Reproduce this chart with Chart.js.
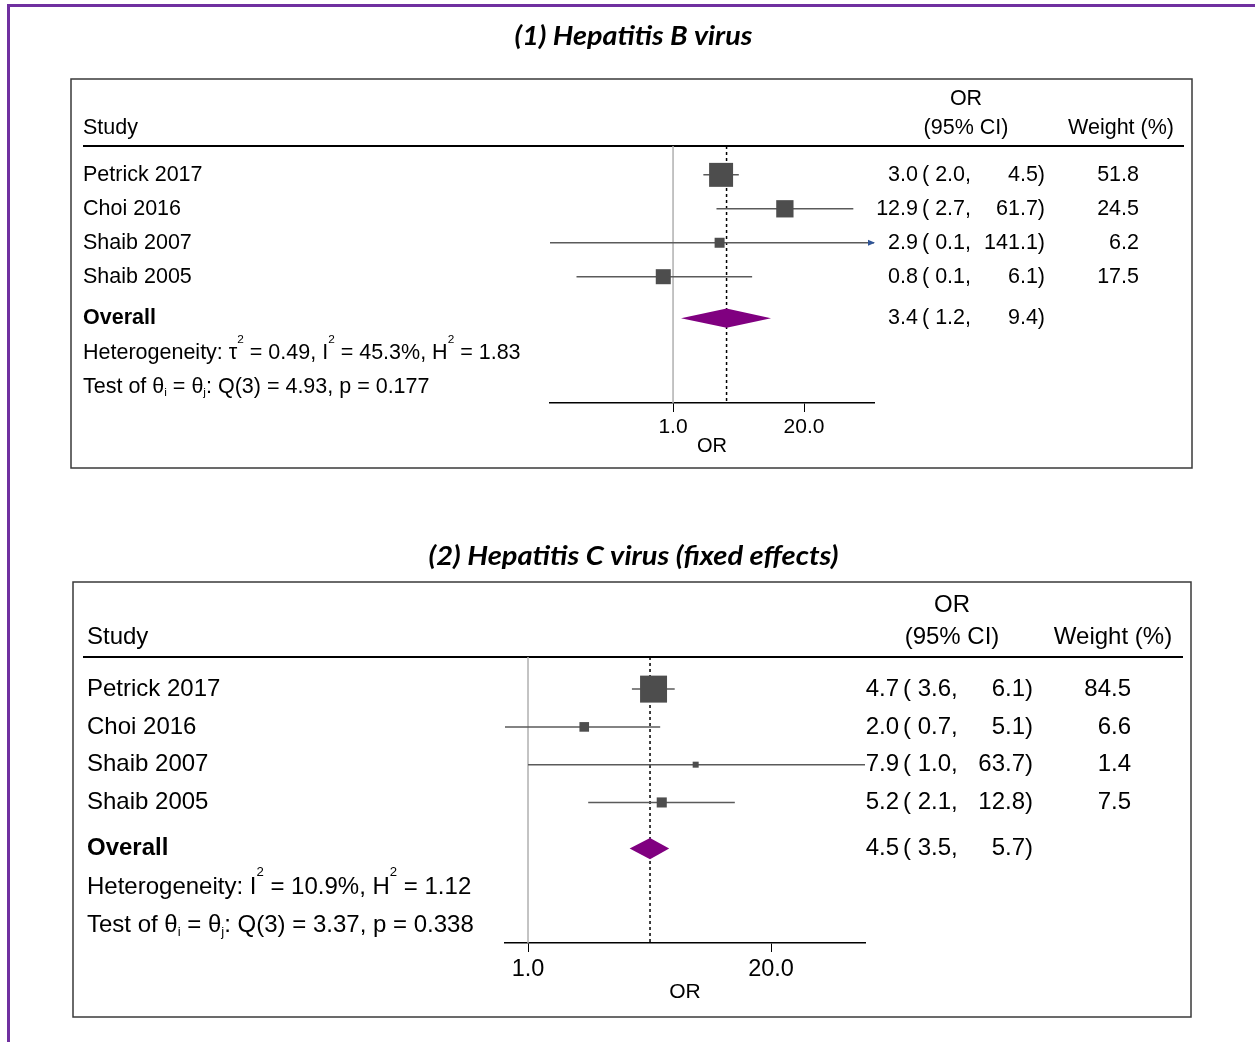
<!DOCTYPE html>
<html>
<head>
<meta charset="utf-8">
<script src="https://cdn.jsdelivr.net/npm/chart.js@4.4.1/dist/chart.umd.min.js"></script>
<style>
  body { margin: 0; background: #fff; }
  #wrap { position: relative; width: 1255px; height: 1042px; overflow: hidden; }
  #wrap canvas { position: absolute; left: 0; top: 0; }
  .frame-top { position: absolute; left: 7px; top: 4px; width: 1248px; height: 3px; background: #7030a0; }
  .frame-left { position: absolute; left: 7px; top: 4px; width: 3px; height: 1038px; background: #7030a0; }
</style>
</head>
<body>
<div id="wrap">
  <div class="frame-top"></div>
  <div class="frame-left"></div>
  <canvas id="hbv" width="1255" height="1042"></canvas>
  <canvas id="hcv" width="1255" height="1042"></canvas>
</div>
<script>
// --- DATA ---
const studies = ['Petrick 2017', 'Choi 2016', 'Shaib 2007', 'Shaib 2005'];
const tickValues = [1, 20];

// (1) Hepatitis B
const hbvOR = [3.0, 12.9, 2.9, 0.8];
const hbvLow = [2.0, 2.7, 0.06, 0.11];
const hbvHigh = [4.5, 61.7, 141.1, 6.1];
const hbvWeight = [51.8, 24.5, 6.2, 17.5];
const hbvOverall = [3.4, 1.2, 9.4]; // est, low, high
const hbvHet = [['Heterogeneity: τ'], ['2', 'sup'], [' = 0.49, I'], ['2', 'sup'], [' = 45.3%, H'], ['2', 'sup'], [' = 1.83']];
const hbvTest = [['Test of θ'], ['i', 'sub'], [' = θ'], ['j', 'sub'], [': Q(3) = 4.93, p = 0.177']];

// (2) Hepatitis C (fixed effects)
const hcvOR = [4.7, 2.0, 7.9, 5.2];
const hcvLow = [3.6, 0.7, 1.0, 2.1];
const hcvHigh = [6.1, 5.1, 63.7, 12.8];
const hcvWeight = [84.5, 6.6, 1.4, 7.5];
const hcvOverall = [4.5, 3.5, 5.7];
const hcvHet = [['Heterogeneity: I'], ['2', 'sup'], [' = 10.9%, H'], ['2', 'sup'], [' = 1.12']];
const hcvTest = [['Test of θ'], ['i', 'sub'], [' = θ'], ['j', 'sub'], [': Q(3) = 3.37, p = 0.338']];

// --- LAYOUT ---
const W = 1255, H = 1042;
const FONT = '"Liberation Sans", Arial, sans-serif';
const ROW_MIN = 0.15, ROW_MAX = 7.72;
const ROWS = { hdr1: -1.22, hdr2: -0.38, overall: 5.22, het: 6.25, test: 7.25 };

const panels = [
  {
    id: 'hbv', title: '(1) Hepatitis B virus', titleY: 37, titleW: 238,
    or: hbvOR, low: hbvLow, high: hbvHigh, weight: hbvWeight, overall: hbvOverall, het: hbvHet, test: hbvTest,
    area: { left: 550, right: 874, top: 146, bottom: 403 }, axisH: 55,
    xMin: 0.06, xMax: 99, fs: 21.5, tickFs: 21, axisTitleFs: 20,
    nameX: 83, estX: 918, openX: 922, hiX: 1045, wX: 1139, hdrX: 966, wHdrX: 1121,
    rule: [83, 1184], box: [71, 79, 1192, 468], sq: [2.97, 2.6]
  },
  {
    id: 'hcv', title: '(2) Hepatitis C virus (fixed effects)', titleY: 557, titleW: 410,
    or: hcvOR, low: hcvLow, high: hcvHigh, weight: hcvWeight, overall: hcvOverall, het: hcvHet, test: hcvTest,
    area: { left: 505, right: 865, top: 657, bottom: 943 }, axisH: 62,
    xMin: 0.753, xMax: 63.7, fs: 24, tickFs: 23.5, axisTitleFs: 21,
    nameX: 87, estX: 899, openX: 903, hiX: 1033, wX: 1131, hdrX: 952, wHdrX: 1113,
    rule: [83, 1183], box: [73, 582, 1191, 1017], sq: [2.62, 2.9]
  }
];

function text(ctx, s, x, y, align, font) {
  ctx.font = font;
  ctx.textAlign = align;
  ctx.fillText(s, x, y);
}

// tekst z indeksami gornymi / dolnymi
function rich(ctx, parts, x, y, size) {
  ctx.textAlign = 'left';
  let cx = x;
  parts.forEach(([s, mode]) => {
    const fs = mode ? size * 0.55 : size;
    ctx.font = `${fs}px ${FONT}`;
    const dy = mode === 'sup' ? -size * 0.62 : mode === 'sub' ? size * 0.28 : 0;
    ctx.fillText(s, cx, y + dy);
    cx += ctx.measureText(s).width;
  });
}

function forestPlugin(p) {
  return {
    id: 'forest_' + p.id,
    beforeDatasetsDraw(chart) {
      const { ctx, chartArea: a, scales: { x } } = chart;
      ctx.save();
      // linia pod naglowkiem
      ctx.strokeStyle = '#000';
      ctx.lineWidth = 2;
      ctx.beginPath();
      ctx.moveTo(p.rule[0], a.top);
      ctx.lineTo(p.rule[1], a.top);
      ctx.stroke();
      // linia odniesienia OR = 1
      const x1 = x.getPixelForValue(1);
      ctx.strokeStyle = '#b0b0b0';
      ctx.lineWidth = 1.5;
      ctx.beginPath();
      ctx.moveTo(x1, a.top);
      ctx.lineTo(x1, a.bottom);
      ctx.stroke();
      // przerywana linia dla wyniku lacznego
      const xo = x.getPixelForValue(p.overall[0]);
      ctx.strokeStyle = '#000';
      ctx.setLineDash([3, 3]);
      ctx.beginPath();
      ctx.moveTo(xo, a.top);
      ctx.lineTo(xo, a.bottom);
      ctx.stroke();
      ctx.restore();
    },
    afterDatasetsDraw(chart) {
      const { ctx, chartArea: a, scales: { x, y } } = chart;
      ctx.save();
      // romb
      const yo = y.getPixelForValue(ROWS.overall);
      const half = Math.abs(y.getPixelForValue(ROWS.overall + 0.28) - yo);
      ctx.fillStyle = '#800080';
      ctx.beginPath();
      ctx.moveTo(x.getPixelForValue(p.overall[1]), yo);
      ctx.lineTo(x.getPixelForValue(p.overall[0]), yo - half);
      ctx.lineTo(x.getPixelForValue(p.overall[2]), yo);
      ctx.lineTo(x.getPixelForValue(p.overall[0]), yo + half);
      ctx.closePath();
      ctx.fill();
      // strzalki gdy przedzial wychodzi poza os
      p.high.forEach((h, i) => {
        if (h <= p.xMax) return;
        const yy = y.getPixelForValue(i + 1);
        ctx.fillStyle = '#2f5597';
        ctx.beginPath();
        ctx.moveTo(a.right + 1, yy);
        ctx.lineTo(a.right - 6, yy - 3);
        ctx.lineTo(a.right - 6, yy + 3);
        ctx.closePath();
        ctx.fill();
      });
      ctx.restore();
    },
    afterDraw(chart) {
      const { ctx, scales: { y } } = chart;
      const f = `${p.fs}px ${FONT}`;
      const row = v => y.getPixelForValue(v);
      ctx.save();
      ctx.fillStyle = '#000';
      ctx.textBaseline = 'middle';

      // tytul panelu - rozciagniety do szerokosci z oryginalu
      ctx.font = `italic bold 26px Lato, "Open Sans", sans-serif`;
      ctx.textAlign = 'center';
      const tw = ctx.measureText(p.title).width;
      ctx.save();
      ctx.translate(W / 2 + 6, p.titleY);
      ctx.scale(p.titleW / tw, 1);
      ctx.fillText(p.title, 0, 0);
      ctx.restore();

      // naglowki
      text(ctx, 'OR', p.hdrX, row(ROWS.hdr1), 'center', f);
      text(ctx, '(95% CI)', p.hdrX, row(ROWS.hdr2), 'center', f);
      text(ctx, 'Study', p.nameX, row(ROWS.hdr2), 'left', f);
      text(ctx, 'Weight (%)', p.wHdrX, row(ROWS.hdr2), 'center', f);

      // wiersze badan
      studies.forEach((s, i) => {
        const yy = row(i + 1);
        text(ctx, s, p.nameX, yy, 'left', f);
        text(ctx, p.or[i].toFixed(1), p.estX, yy, 'right', f);
        text(ctx, '( ' + p.low[i].toFixed(1) + ',', p.openX, yy, 'left', f);
        text(ctx, p.high[i].toFixed(1) + ')', p.hiX, yy, 'right', f);
        text(ctx, p.weight[i].toFixed(1), p.wX, yy, 'right', f);
      });

      // wynik laczny
      const yo = row(ROWS.overall);
      text(ctx, 'Overall', p.nameX, yo, 'left', `bold ${p.fs}px ${FONT}`);
      text(ctx, p.overall[0].toFixed(1), p.estX, yo, 'right', f);
      text(ctx, '( ' + p.overall[1].toFixed(1) + ',', p.openX, yo, 'left', f);
      text(ctx, p.overall[2].toFixed(1) + ')', p.hiX, yo, 'right', f);

      rich(ctx, p.het, p.nameX, row(ROWS.het), p.fs);
      rich(ctx, p.test, p.nameX, row(ROWS.test), p.fs);

      // ramka panelu
      const [bx0, by0, bx1, by1] = p.box;
      ctx.strokeStyle = '#3a3a3a';
      ctx.lineWidth = 1.5;
      ctx.strokeRect(bx0, by0, bx1 - bx0, by1 - by0);
      ctx.restore();
    }
  };
}

function buildChart(p) {
  const [sa, sb] = p.sq;
  const ciSets = p.or.map((v, i) => ({
    data: [{ x: p.low[i], y: i + 1 }, { x: p.high[i], y: i + 1 }],
    showLine: true,
    borderColor: '#5a5a5a',
    borderWidth: 1.5,
    pointRadius: 0,
    order: 2
  }));
  const squares = {
    data: p.or.map((v, i) => ({ x: v, y: i + 1 })),
    pointStyle: 'rect',
    pointRadius: p.weight.map(w => (sa * Math.sqrt(w) + sb) / Math.SQRT2),
    backgroundColor: '#4d4d4d',
    borderColor: '#4d4d4d',
    borderWidth: 0,
    order: 1
  };

  return new Chart(document.getElementById(p.id).getContext('2d'), {
    type: 'scatter',
    data: { datasets: [...ciSets, squares] },
    options: {
      responsive: false,
      animation: false,
      events: [],
      layout: {
        padding: {
          left: p.area.left,
          right: W - p.area.right,
          top: p.area.top,
          bottom: H - p.area.bottom - p.axisH
        }
      },
      plugins: { legend: { display: false }, tooltip: { enabled: false } },
      scales: {
        x: {
          type: 'logarithmic',
          min: p.xMin,
          max: p.xMax,
          afterBuildTicks: s => { s.ticks = tickValues.map(v => ({ value: v })); },
          afterFit: s => { s.height = p.axisH; },
          ticks: {
            callback: v => Number(v).toFixed(1),
            font: { family: FONT, size: p.tickFs },
            color: '#000',
            padding: 3,
            maxRotation: 0,
            autoSkip: false
          },
          grid: { drawOnChartArea: false, drawTicks: true, tickLength: 9, color: '#000', lineWidth: 1 },
          border: { display: true, color: '#000', width: 1.5 },
          title: { display: true, text: 'OR', color: '#000', padding: 0, font: { family: FONT, size: p.axisTitleFs } }
        },
        y: { type: 'linear', reverse: true, min: ROW_MIN, max: ROW_MAX, display: false }
      }
    },
    plugins: [forestPlugin(p)]
  });
}

panels.forEach(buildChart);
</script>
</body>
</html>
